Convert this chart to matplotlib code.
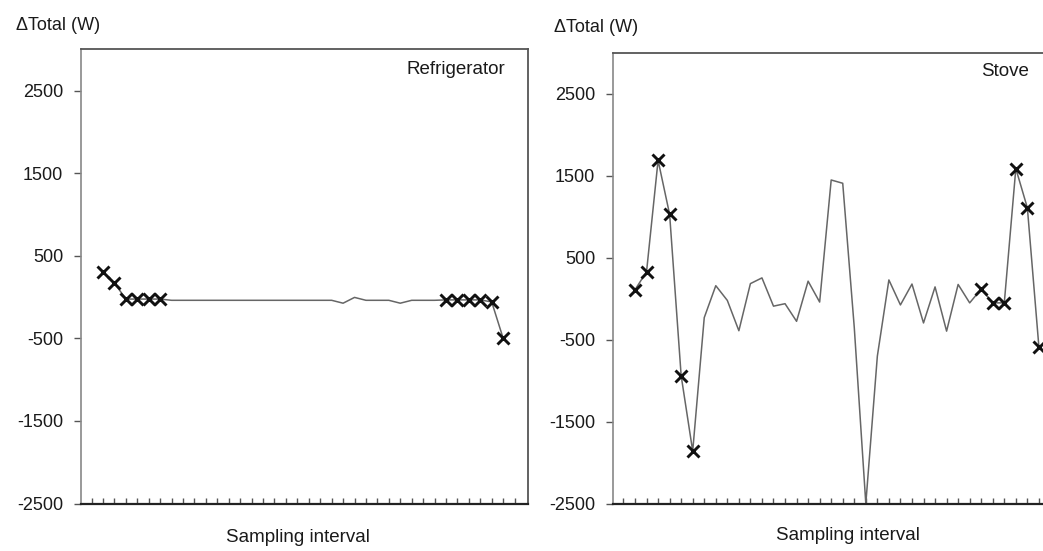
import matplotlib
matplotlib.use("Agg")
import matplotlib.pyplot as plt

plt.rcParams['font.family'] = ['Liberation Sans', 'DejaVu Sans']

# ---- data ----
sample_idx = list(range(2, 38))
fridge = [300, 170, -25, -25, -25, -25,
          -40, -40, -40, -40, -40, -40, -40, -40, -40, -40, -40, -40, -40, -40, -40,
          -75, -5, -40, -40, -40, -75, -40, -40, -40,
          -35, -35, -35, -35, -60, -500]
stove = [110, 330, 1690, 1030, -940, -1860,
         -230, 160, -20, -390, 185, 255, -90, -60, -275, 215, -40,
         1450, 1410, -350, -2500, -700, 230, -75, 180, -295, 145, -395, 175, -50,
         120, -50, -50, 1590, 1110, -590]
marked_idx = [2, 3, 4, 5, 6, 7, 32, 33, 34, 35, 36, 37]
y_ticks = [-2500, -1500, -500, 500, 1500, 2500]
x_ticks = list(range(1, 39))
panel_titles = ["Refrigerator", "Stove"]
y_label = "\u0394Total (W)"
x_label = "Sampling interval"

W, H = 1043, 551
fig = plt.figure(figsize=(W / 100, H / 100), dpi=100)

def px(x, y):
    return x / W, 1 - y / H

axL = fig.add_axes([80.7 / W, 1 - 503.5 / H, 447.6 / W, 454.3 / H])
axR = fig.add_axes([612.5 / W, 1 - 503.6 / H, 451.8 / W, 450.6 / H])

for ax, series, title in [(axL, fridge, panel_titles[0]), (axR, stove, panel_titles[1])]:
    ax.plot(sample_idx, series, color='#666666', lw=1.1, zorder=2, clip_on=True)
    mx = [i for i in marked_idx]
    my = [series[sample_idx.index(i)] for i in marked_idx]
    ax.plot(mx, my, ls='none', marker='x', color='#111111', ms=9, mew=2.1, zorder=3, clip_on=False)
    ax.set_xlim(0.05, 39.2)
    ax.set_ylim(-2500, 3000)
    ax.set_yticks(y_ticks)
    ax.set_yticklabels([str(v) for v in y_ticks])
    ax.set_xticks(x_ticks)
    ax.set_xticklabels([])
    ax.tick_params(axis='y', direction='out', length=5, width=1, color='#555555',
                   pad=7.5, labelsize=13, labelcolor='#1a1a1a')
    ax.tick_params(axis='x', direction='in', length=4, width=1, color='#555555')
    ax.spines['left'].set_color('#888888')
    ax.spines['left'].set_linewidth(1.2)
    ax.spines['bottom'].set_color('#222222')
    ax.spines['bottom'].set_linewidth(1.6)
    ax.spines['top'].set_color('#555555')
    ax.spines['top'].set_linewidth(1.3)
    ax.spines['right'].set_color('#555555')
    ax.spines['right'].set_linewidth(1.3)

# panel labels
fig.text(*px(505, 70), panel_titles[0], ha='right', va='center', fontsize=13.5, color='#1a1a1a')
fig.text(*px(1029, 72), panel_titles[1], ha='right', va='center', fontsize=13.5, color='#1a1a1a')

# y axis titles
fig.text(*px(16, 26), y_label, ha='left', va='center', fontsize=13, color='#1a1a1a')
fig.text(*px(554, 28), y_label, ha='left', va='center', fontsize=13, color='#1a1a1a')

# x axis titles
fig.text(*px(298, 538), x_label, ha='center', va='center', fontsize=13.5, color='#1a1a1a')
fig.text(*px(848, 536), x_label, ha='center', va='center', fontsize=13.5, color='#1a1a1a')

fig.savefig("out.png", dpi=100, facecolor='white')
